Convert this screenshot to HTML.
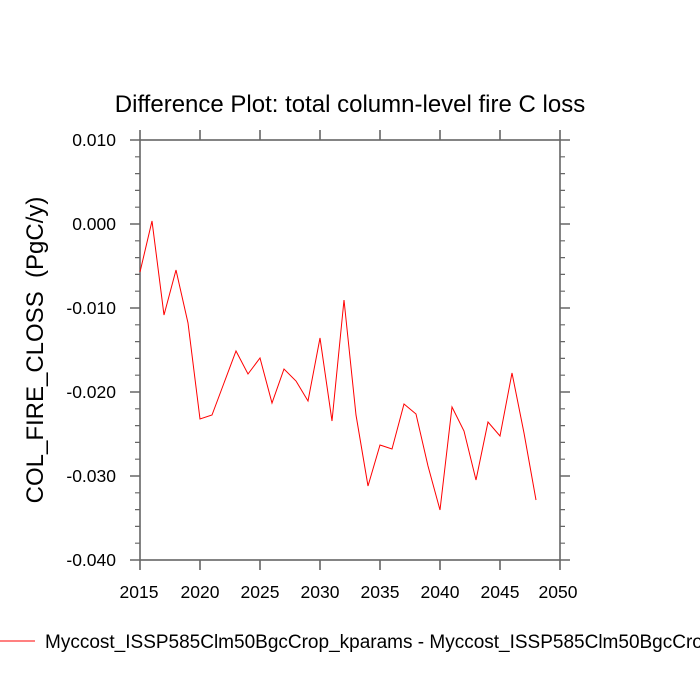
<!DOCTYPE html>
<html><head><style>body{margin:0;background:#fff;overflow:hidden}svg{display:block}</style></head><body>
<svg width="700" height="700" xmlns="http://www.w3.org/2000/svg" font-family="Liberation Sans, sans-serif">
<text x="350" y="112" font-size="24" text-anchor="middle">Difference Plot: total column-level fire C loss</text>
<text transform="translate(43,350) rotate(-90)" font-size="24" text-anchor="middle" xml:space="preserve">COL_FIRE_CLOSS  (PgC/y)</text>
<g stroke="#666" stroke-width="1.6" fill="none">
<rect x="140" y="140" width="420" height="420"/>
<path d="M130 140H140M130 224H140M130 308H140M130 392H140M130 476H140M130 560H140
M560 140H570M560 224H570M560 308H570M560 392H570M560 476H570M560 560H570
M140 560V570M200 560V570M260 560V570M320 560V570M380 560V570M440 560V570M500 560V570M560 560V570
M140 140V130M200 140V130M260 140V130M320 140V130M380 140V130M440 140V130M500 140V130M560 140V130"/>
<path stroke-width="1.2" d="M135 156.8H140M135 173.6H140M135 190.4H140M135 207.2H140M135 240.8H140M135 257.6H140M135 274.4H140M135 291.2H140M135 324.8H140M135 341.6H140M135 358.4H140M135 375.2H140M135 408.8H140M135 425.6H140M135 442.4H140M135 459.2H140M135 492.8H140M135 509.6H140M135 526.4H140M135 543.2H140
M560 156.8H565M560 173.6H565M560 190.4H565M560 207.2H565M560 240.8H565M560 257.6H565M560 274.4H565M560 291.2H565M560 324.8H565M560 341.6H565M560 358.4H565M560 375.2H565M560 408.8H565M560 425.6H565M560 442.4H565M560 459.2H565M560 492.8H565M560 509.6H565M560 526.4H565M560 543.2H565"/>
</g>
<g font-size="17.5" text-anchor="end">
<text x="116" y="146">0.010</text><text x="116" y="230">0.000</text><text x="116" y="314">-0.010</text><text x="116" y="398">-0.020</text><text x="116" y="482">-0.030</text><text x="116" y="566">-0.040</text>
</g>
<g font-size="17.5" text-anchor="middle">
<text x="139" y="598">2015</text><text x="200" y="598">2020</text><text x="260" y="598">2025</text><text x="320" y="598">2030</text><text x="380" y="598">2035</text><text x="440" y="598">2040</text><text x="500" y="598">2045</text><text x="558" y="598">2050</text>
</g>
<polyline fill="none" stroke="#f00" stroke-width="1" points="140,272 152,221 164,315 176,270 188,323 200,419 212,415 224,383 236,351 248,374 260,358 272,403 284,369 296,381 308,401 320,338 332,421 344,300 356,415 368,486 380,445 392,449 404,404 416,414 428,466 440,510 452,407 464,431 476,480 488,422 500,436 512,373 524,433 536,500"/>
<line x1="0" y1="641" x2="35" y2="641" stroke="#f00" stroke-width="1"/>
<text x="45" y="648" font-size="19">Myccost_ISSP585Clm50BgcCrop_kparams - Myccost_ISSP585Clm50BgcCrop</text>
</svg>
</body></html>
